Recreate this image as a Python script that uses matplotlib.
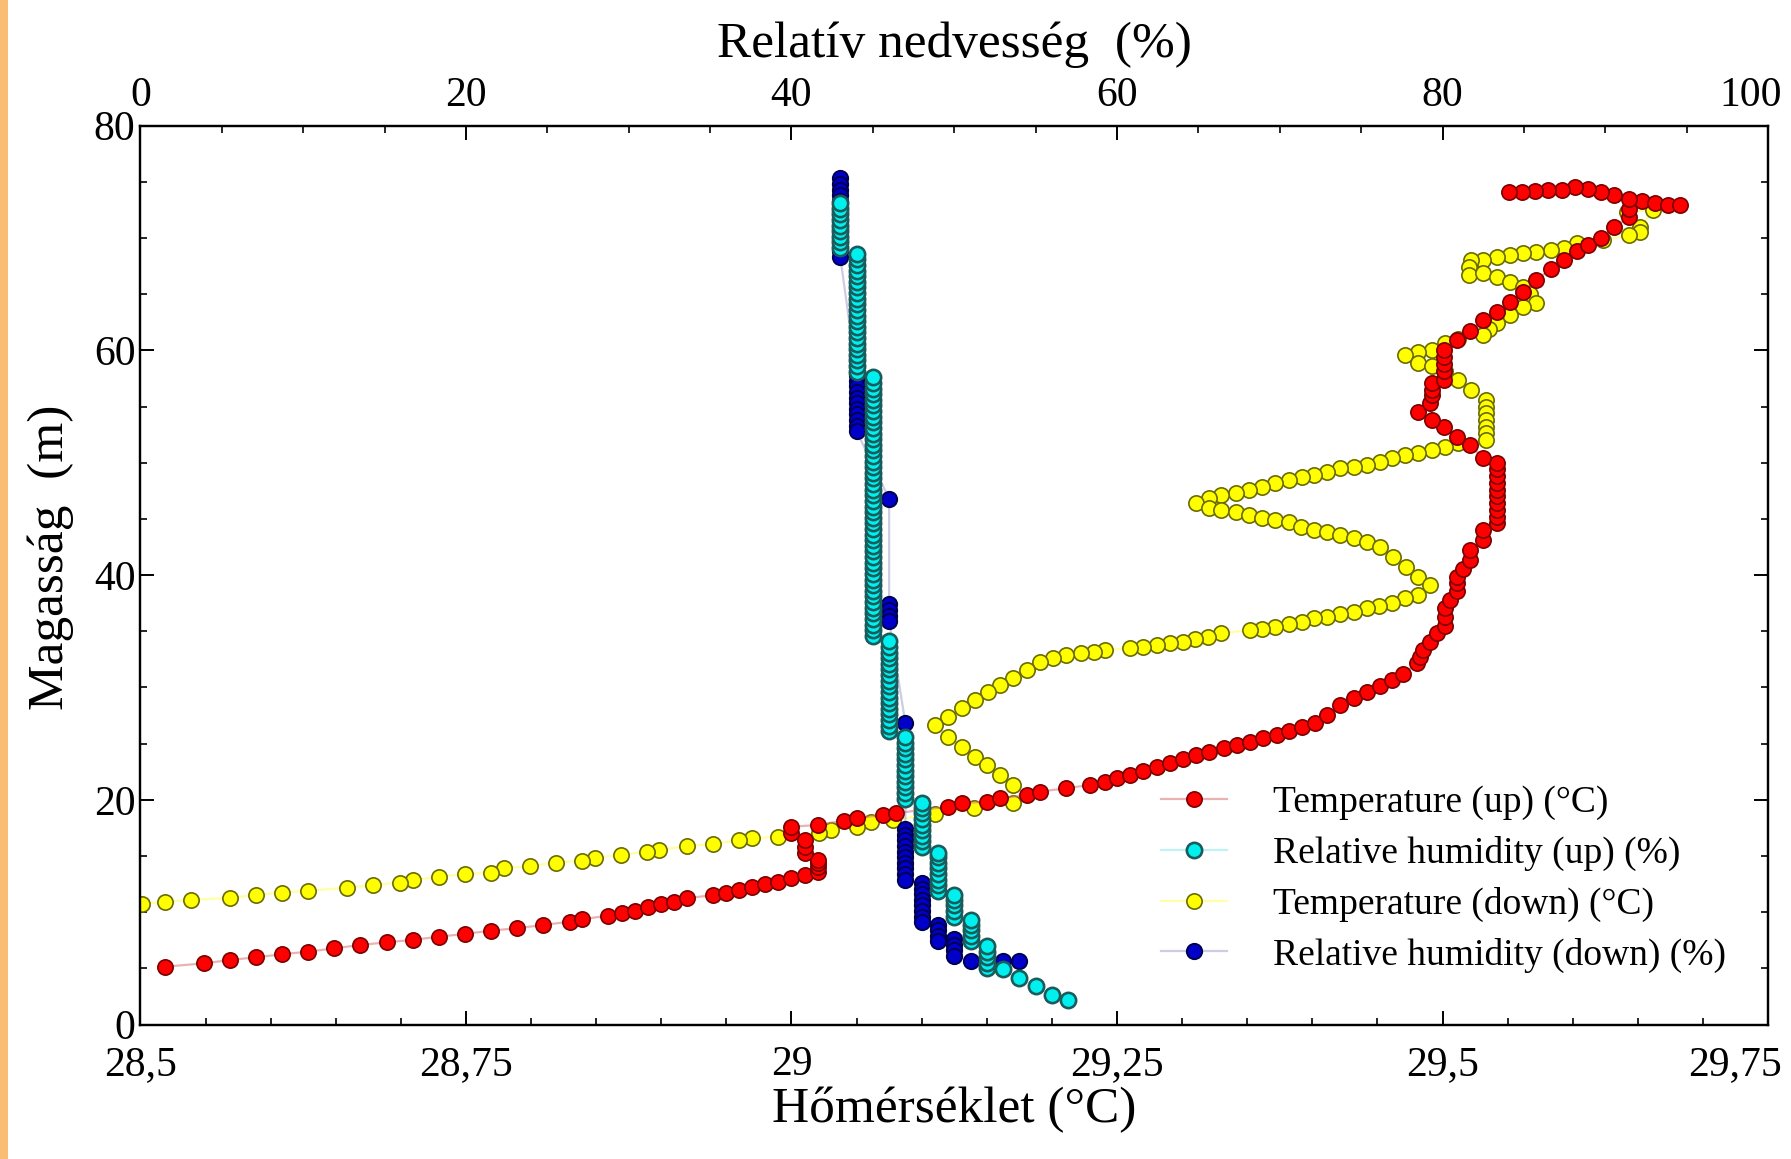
import matplotlib
matplotlib.use("Agg")
import matplotlib.pyplot as plt
from matplotlib.patches import Rectangle
from matplotlib.ticker import MultipleLocator, FixedLocator, FixedFormatter
from matplotlib.transforms import ScaledTranslation

plt.rcParams["font.family"] = ["Liberation Serif", "DejaVu Serif"]

# --- Temperature, sensor going up (red) ---
temp_up = [
    28.519, 28.549, 28.569, 28.589, 28.609, 28.629, 28.649, 28.669, 28.689, 28.709,
    28.729, 28.749, 28.769, 28.789, 28.809, 28.830, 28.839, 28.859, 28.870, 28.880,
    28.890, 28.900, 28.910, 28.920, 28.940, 28.950, 28.960, 28.970, 28.980, 28.990,
    29.000, 29.010, 29.020, 29.020, 29.020, 29.020, 29.010, 29.010, 29.010, 29.000,
    29.000, 29.020, 29.040, 29.050, 29.070, 29.080, 29.100, 29.120, 29.131, 29.150,
    29.160, 29.181, 29.191, 29.211, 29.229, 29.241, 29.250, 29.260, 29.270, 29.281,
    29.291, 29.301, 29.311, 29.321, 29.332, 29.342, 29.352, 29.362, 29.373, 29.382,
    29.392, 29.402, 29.411, 29.421, 29.432, 29.442, 29.452, 29.461, 29.470, 29.480,
    29.483, 29.485, 29.490, 29.496, 29.502, 29.502, 29.502, 29.506, 29.511, 29.511,
    29.511, 29.516, 29.521, 29.521, 29.531, 29.531, 29.542, 29.542, 29.542, 29.542,
    29.542, 29.542, 29.542, 29.542, 29.542, 29.542, 29.531, 29.521, 29.511, 29.501,
    29.492, 29.481, 29.490, 29.492, 29.492, 29.492, 29.501, 29.501, 29.501, 29.501,
    29.501, 29.511, 29.521, 29.531, 29.542, 29.552, 29.562, 29.572, 29.583, 29.593,
    29.603, 29.612, 29.622, 29.632, 29.643, 29.643, 29.653, 29.663, 29.673, 29.682,
    29.643, 29.632, 29.622, 29.612, 29.602, 29.592, 29.581, 29.571, 29.561, 29.551,
]
h_temp_up = [
    5.15, 5.45, 5.75, 5.99, 6.26, 6.49, 6.79, 7.08, 7.32, 7.53,
    7.82, 8.06, 8.36, 8.57, 8.86, 9.16, 9.37, 9.69, 9.90, 10.14,
    10.44, 10.73, 10.94, 11.24, 11.53, 11.74, 11.98, 12.22, 12.51, 12.72,
    13.02, 13.31, 13.61, 14.00, 14.35, 14.65, 15.24, 15.83, 16.43, 17.02,
    17.61, 17.76, 18.15, 18.36, 18.65, 18.80, 19.10, 19.39, 19.69, 19.84,
    20.14, 20.43, 20.73, 21.03, 21.32, 21.62, 21.95, 22.21, 22.60, 22.95,
    23.30, 23.60, 23.99, 24.30, 24.59, 24.90, 25.18, 25.50, 25.77, 26.10,
    26.51, 26.87, 27.55, 28.44, 29.04, 29.63, 30.13, 30.67, 31.20, 32.15,
    32.74, 33.33, 34.08, 34.82, 35.50, 36.30, 37.05, 37.80, 38.60, 39.30,
    39.86, 40.50, 41.30, 42.20, 43.10, 44.00, 44.60, 45.20, 45.80, 46.40,
    47.00, 47.60, 48.20, 48.80, 49.40, 49.95, 50.40, 51.60, 52.30, 53.20,
    53.80, 54.50, 55.30, 56.00, 56.50, 57.10, 57.40, 58.20, 58.80, 59.40,
    60.00, 60.90, 61.70, 62.70, 63.40, 64.30, 65.20, 66.30, 67.20, 68.00,
    68.80, 69.40, 70.00, 71.00, 71.90, 72.60, 73.30, 73.10, 72.90, 72.90,
    73.50, 73.80, 74.10, 74.40, 74.50, 74.30, 74.30, 74.20, 74.10, 74.10,
]

# --- Temperature, sensor coming down (yellow) ---
temp_down = [
    29.642, 29.662, 29.652, 29.652, 29.643, 29.623, 29.603, 29.593, 29.583, 29.572,
    29.562, 29.552, 29.542, 29.531, 29.522, 29.520, 29.520, 29.531, 29.542, 29.552,
    29.562, 29.567, 29.572, 29.562, 29.552, 29.542, 29.536, 29.531, 29.512, 29.502,
    29.492, 29.481, 29.471, 29.481, 29.492, 29.502, 29.512, 29.522, 29.533, 29.533,
    29.533, 29.533, 29.533, 29.533, 29.533, 29.512, 29.502, 29.492, 29.481, 29.471,
    29.461, 29.452, 29.442, 29.432, 29.421, 29.411, 29.401, 29.392, 29.382, 29.371,
    29.361, 29.351, 29.341, 29.330, 29.321, 29.311, 29.321, 29.330, 29.341, 29.351,
    29.361, 29.371, 29.382, 29.391, 29.401, 29.411, 29.421, 29.432, 29.442, 29.452,
    29.462, 29.472, 29.481, 29.490, 29.481, 29.471, 29.461, 29.451, 29.442, 29.432,
    29.421, 29.411, 29.401, 29.392, 29.382, 29.371, 29.361, 29.352, 29.330, 29.320,
    29.310, 29.301, 29.291, 29.281, 29.270, 29.260, 29.241, 29.232, 29.222, 29.211,
    29.201, 29.191, 29.181, 29.170, 29.160, 29.151, 29.141, 29.131, 29.120, 29.110,
    29.120, 29.131, 29.141, 29.150, 29.160, 29.170, 29.170, 29.140, 29.110, 29.078,
    29.061, 29.050, 29.030, 29.021, 28.990, 28.970, 28.960, 28.940, 28.920, 28.898,
    28.889, 28.869, 28.849, 28.839, 28.819, 28.799, 28.779, 28.769, 28.749, 28.729,
    28.709, 28.699, 28.679, 28.659, 28.629, 28.609, 28.589, 28.569, 28.539, 28.519,
    28.501,
]
h_temp_down = [
    72.30, 72.50, 71.00, 70.56, 70.26, 69.80, 69.53, 69.08, 68.93, 68.78,
    68.64, 68.49, 68.34, 68.04, 68.04, 67.45, 66.71, 66.90, 66.56, 66.11,
    65.67, 65.00, 64.19, 63.89, 63.15, 62.41, 61.90, 61.37, 61.00, 60.63,
    60.03, 59.88, 59.59, 58.85, 58.61, 58.20, 57.37, 56.47, 55.58, 54.99,
    54.40, 53.81, 53.21, 52.62, 52.03, 51.73, 51.43, 51.14, 50.84, 50.69,
    50.39, 50.10, 49.80, 49.65, 49.50, 49.20, 48.91, 48.76, 48.47, 48.17,
    47.87, 47.58, 47.28, 47.13, 46.84, 46.39, 45.94, 45.79, 45.64, 45.35,
    45.05, 44.90, 44.75, 44.31, 44.01, 43.86, 43.57, 43.27, 42.97, 42.53,
    41.64, 40.75, 39.86, 39.12, 38.23, 37.94, 37.55, 37.25, 37.05, 36.75,
    36.54, 36.30, 36.16, 35.86, 35.65, 35.41, 35.18, 35.12, 34.82, 34.52,
    34.29, 34.08, 33.93, 33.78, 33.63, 33.49, 33.34, 33.19, 33.04, 32.89,
    32.60, 32.30, 31.56, 30.82, 30.22, 29.63, 28.89, 28.15, 27.40, 26.66,
    25.57, 24.73, 23.84, 23.10, 22.21, 21.32, 19.69, 19.25, 18.74, 18.21,
    18.06, 17.61, 17.32, 17.02, 16.72, 16.58, 16.43, 16.07, 15.89, 15.54,
    15.39, 15.09, 14.85, 14.59, 14.41, 14.11, 13.91, 13.52, 13.37, 13.16,
    12.87, 12.63, 12.42, 12.18, 11.92, 11.74, 11.53, 11.29, 11.09, 10.94,
    10.73,
]

# --- Relative humidity, going up (cyan): one humidity value per run of heights ---
rh_up_levels = [57, 56, 55, 54, 53, 52, 51, 50, 49, 48, 47, 46, 45, 44, 43]
h_rh_up = [
    [2.2],
    [2.6],
    [3.4],
    [4.1],
    [4.9],
    [5.0, 5.5, 6.0, 6.5, 7.0],
    [7.4, 7.9, 8.4, 8.9, 9.3],
    [9.6, 10.1, 10.6, 11.1, 11.5],
    [11.9, 12.4, 12.9, 13.4, 13.9, 14.4, 14.9, 15.3],
    [15.8, 16.3, 16.8, 17.3, 17.8, 18.3, 18.8, 19.3, 19.7],
    [20.1, 20.6, 21.1, 21.6, 22.1, 22.6, 23.1, 23.6, 24.1, 24.6, 25.1, 25.6],
    [26.1, 26.6, 27.1, 27.6, 28.1, 28.6, 29.1, 29.6, 30.1, 30.6, 31.1, 31.6,
     32.1, 32.6, 33.1, 33.6, 34.1],
    [34.6, 35.1, 35.6, 36.1, 36.6, 37.1, 37.6, 38.1, 38.6, 39.1, 39.6, 40.1,
     40.6, 41.1, 41.6, 42.1, 42.6, 43.1, 43.6, 44.1, 44.6, 45.1, 45.6, 46.1,
     46.6, 47.1, 47.6, 48.1, 48.6, 49.1, 49.6, 50.1, 50.6, 51.1, 51.6, 52.1,
     52.6, 53.1, 53.6, 54.1, 54.6, 55.1, 55.6, 56.1, 56.6, 57.1, 57.6],
    [58.1, 58.6, 59.1, 59.6, 60.1, 60.6, 61.1, 61.6, 62.1, 62.6, 63.1, 63.6,
     64.1, 64.6, 65.1, 65.6, 66.1, 66.6, 67.1, 67.6, 68.1, 68.6],
    [69.1, 69.6, 70.1, 70.6, 71.1, 71.6, 72.1, 72.6, 73.1],
]

# --- Relative humidity, coming down (blue) ---
rh_down_levels = [43, 44, 46, 46, 47, 47, 48, 49, 50, 51, 52, 53, 54]
h_rh_down = [
    [75.3, 74.8, 74.3, 73.8, 73.3, 72.8, 72.3, 71.8, 71.3, 70.8, 70.3, 69.8,
     69.3, 68.8, 68.3],
    [57.8, 57.3, 56.8, 56.3, 55.8, 55.3, 54.8, 54.3, 53.8, 53.3, 52.8],
    [46.8],
    [37.4, 36.9, 36.4, 35.9],
    [26.8],
    [17.4, 16.9, 16.4, 15.9, 15.4, 14.9, 14.4, 13.9, 13.4, 12.9],
    [12.6, 12.1, 11.6, 11.1, 10.6, 10.1, 9.6, 9.1],
    [8.9, 8.4, 7.9, 7.4],
    [7.6, 7.1, 6.6, 6.1],
    [5.7],
    [5.7],
    [5.7],
    [5.7],
]

labels = [
    "Temperature (up) (°C)",
    "Relative humidity (up) (%)",
    "Temperature (down) (°C)",
    "Relative humidity (down) (%)",
]
temp_ticks = [28.5, 28.75, 29.0, 29.25, 29.5, 29.75]
temp_ticklabels = ["28,5", "28,75", "29", "29,25", "29,5", "29,75"]
rh_ticks = [0, 20, 40, 60, 80, 100]
height_ticks = [0, 20, 40, 60, 80]


def flatten(levels, runs):
    xs, ys = [], []
    for level, heights in zip(levels, runs):
        for h in heights:
            xs.append(level)
            ys.append(h)
    return xs, ys


rh_up, h_up = flatten(rh_up_levels, h_rh_up)
rh_down, h_down = flatten(rh_down_levels, h_rh_down)

fig = plt.figure(figsize=(17.91, 11.59), dpi=100)
fig.patches.append(Rectangle((0, 0), 8 / 1791, 1, transform=fig.transFigure,
                             facecolor="#F9BE73", edgecolor="none"))
ax = fig.add_axes([0.0784, 0.116, 0.9088, 0.7756])
ax2 = ax.twiny()

style = dict(marker="o", markersize=11, linewidth=1.6)
l1, = ax.plot(temp_up, h_temp_up, color=(0.85, 0.45, 0.45, 0.55), markeredgewidth=1.2,
              markerfacecolor="#FF0000", markeredgecolor="#7A0000", zorder=3, **style)
l3, = ax.plot(temp_down, h_temp_down, color=(1.0, 1.0, 0.4, 0.6), markeredgewidth=1.2,
              markerfacecolor="#FFFF00", markeredgecolor="#6A6A00", zorder=2, **style)
l4, = ax2.plot(rh_down, h_down, color=(0.35, 0.35, 0.65, 0.3), markeredgewidth=1.4,
               markerfacecolor="#0000C8", markeredgecolor="#000050", zorder=2, **style)
l2, = ax2.plot(rh_up, h_up, color=(0.5, 0.9, 0.9, 0.5), markeredgewidth=1.9,
               markerfacecolor="#00F0F0", markeredgecolor="#1A5C5C", zorder=3, **style)

ax.set_xlim(28.5, 29.75)
ax.set_ylim(0, 80)
ax2.set_xlim(0, 100)

ax.xaxis.set_major_locator(FixedLocator(temp_ticks))
ax.xaxis.set_major_formatter(FixedFormatter(temp_ticklabels))
ax.xaxis.set_minor_locator(MultipleLocator(0.05))
ax.yaxis.set_major_locator(FixedLocator(height_ticks))
ax.yaxis.set_minor_locator(MultipleLocator(5))
ax2.xaxis.set_major_locator(FixedLocator(rh_ticks))
ax2.xaxis.set_minor_locator(MultipleLocator(5))

for a in (ax, ax2):
    a.tick_params(which="major", direction="in", length=10, width=1.4, labelsize=30)
    a.tick_params(which="minor", direction="in", length=5, width=1.2)
    for sp in a.spines.values():
        sp.set_linewidth(1.6)
ax.tick_params(which="both", top=False, right=True, labelright=False)
ax.tick_params(axis="x", pad=15)
ax2.tick_params(axis="x", which="both", top=True, bottom=False, pad=8)

# keep the last labels inside the figure, as in the original layout
shift = ScaledTranslation(14 / 100, 0, fig.dpi_scale_trans)
for t in (ax.xaxis.get_major_ticks()[-1], ax2.xaxis.get_major_ticks()[-1]):
    for lab in (t.label1, t.label2):
        lab.set_horizontalalignment("right")
        lab.set_transform(lab.get_transform() + shift)

ax.set_xlabel("Hőmérséklet (°C)", fontsize=37, labelpad=2)
ax.set_ylabel("Magasság  (m)", fontsize=37)
ax.yaxis.set_label_coords(-0.041, 0.52)
ax2.set_xlabel("Relatív nedvesség  (%)", fontsize=37, labelpad=14)

ax2.legend([l1, l2, l3, l4], labels, loc="upper left", bbox_to_anchor=(0.627, 0.266),
           frameon=False, fontsize=27, handlelength=1.75, handletextpad=1.25,
           labelspacing=0.42, borderpad=0, borderaxespad=0)

fig.savefig("out.png", dpi=100)
